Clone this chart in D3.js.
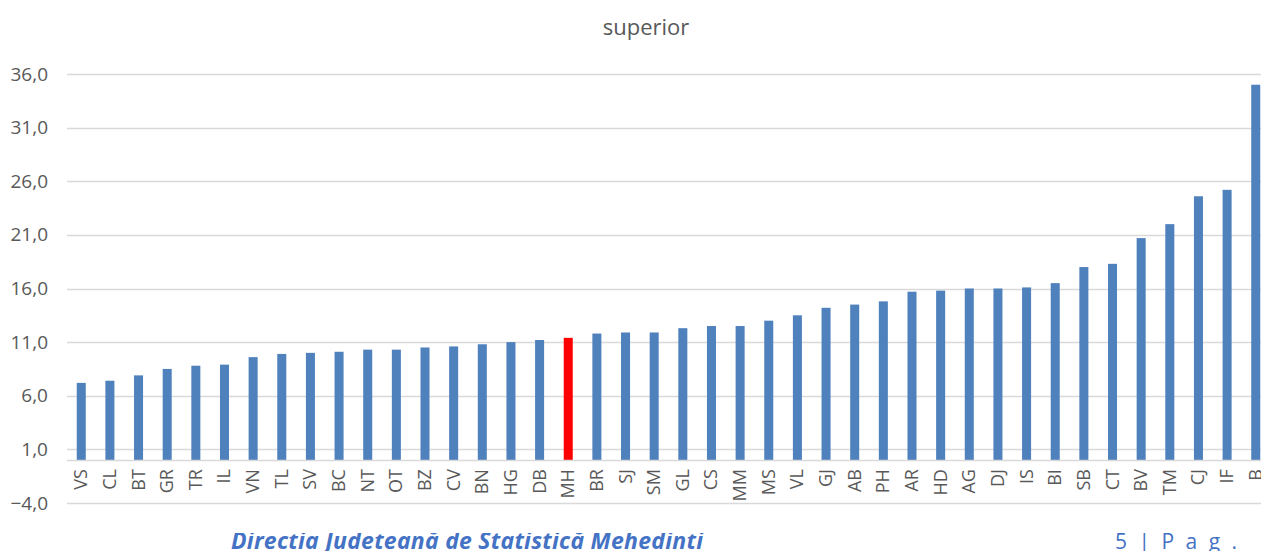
<!DOCTYPE html>
<html>
<head>
<meta charset="utf-8">
<script src="https://cdn.jsdelivr.net/npm/d3@7"></script>
<style>
  body { margin: 0; background: #fff; }
  svg { display: block; }
</style>
</head>
<body>
<div id="chart"></div>
<script>
// counties, sorted ascending by share (superior)
var counties = ["VS","CL","BT","GR","TR","IL","VN","TL","SV","BC","NT","OT","BZ","CV","BN","HG","DB","MH",
    "BR","SJ","SM","GL","CS","MM","MS","VL","GJ","AB","PH","AR","HD","AG","DJ","IS","BI","SB","CT","BV","TM","CJ","IF","B"];
var values = [7.2,7.4,7.9,8.5,8.8,8.9,9.6,9.9,10.0,10.1,10.3,10.3,10.5,10.6,10.8,11.0,11.2,11.4,
    11.8,11.9,11.9,12.3,12.5,12.5,13.0,13.5,14.2,14.5,14.8,15.7,15.8,16.0,16.0,16.1,16.5,18.0,18.3,20.7,22.0,24.6,25.2,35.0];
var yTicks = [-4, 1, 6, 11, 16, 21, 26, 31, 36];
var highlight = "MH";

var width = 1261, height = 551;
var margin = {left: 67, right: -9, top: 74, bottom: 48};
var fontFam = "Open Sans, sans-serif";

var svg = d3.select("#chart").append("svg")
    .attr("width", width)
    .attr("height", height);

var x = d3.scaleBand()
    .domain(counties)
    .range([margin.left, width - margin.right])
    .paddingInner(0.685)
    .paddingOuter(0.34);

var y = d3.scaleLinear()
    .domain([-4, 36])
    .range([height - margin.bottom, margin.top]);

//Title
svg.append("text")
    .attr("x", 646)
    .attr("y", 35)
    .attr("text-anchor", "middle")
    .style("font-family", fontFam)
    .style("font-size", "22px")
    .style("fill", "#595959")
    .text("superior");

//Gridlines
svg.append("g").selectAll("line")
    .data(yTicks)
    .enter().append("line")
    .attr("x1", margin.left)
    .attr("x2", width)
    .attr("y1", function(d){ return Math.round(y(d)) + 0.5; })
    .attr("y2", function(d){ return Math.round(y(d)) + 0.5; })
    .style("stroke", "#d9d9d9")
    .style("stroke-width", "1.5px");

//Y axis labels
var yAxis = d3.axisLeft(y)
    .tickValues(yTicks)
    .tickSize(0)
    .tickPadding(0)
    .tickFormat(function(d){ return d3.format(".1f")(d).replace(".", ","); });

var yG = svg.append("g")
    .attr("transform", "translate(" + 48 + ",0)")
    .call(yAxis);
yG.select(".domain").remove();
yG.selectAll("text")
    .style("font-family", fontFam)
    .style("font-size", "19px")
    .style("fill", "#595959");

//Bars
svg.append("g").selectAll("rect")
    .data(counties)
    .enter().append("rect")
    .attr("x", function(d){ return x(d); })
    .attr("width", x.bandwidth())
    .attr("y", function(d, i){ return y(values[i]); })
    .attr("height", function(d, i){ return y(0) - y(values[i]); })
    .style("fill", function(d){ return d === highlight ? "#ff0000" : "#4f81bd"; });

//Zero axis line
svg.append("line")
    .attr("x1", margin.left)
    .attr("x2", width)
    .attr("y1", Math.round(y(0)) + 0.5)
    .attr("y2", Math.round(y(0)) + 0.5)
    .style("stroke", "#d9d9d9")
    .style("stroke-width", "1.5px");

//Category labels, rotated
svg.append("g").selectAll("text")
    .data(counties)
    .enter().append("text")
    .attr("transform", function(d){
        return "translate(" + (x(d) + x.bandwidth()/2 + 6) + "," + (y(0) + 9) + ") rotate(-90)";
    })
    .attr("text-anchor", "end")
    .style("font-family", fontFam)
    .style("font-size", "18px")
    .style("fill", "#595959")
    .text(function(d){ return d; });

//Footer, top part hidden behind the chart picture
svg.append("clipPath")
    .attr("id", "footClip")
    .append("rect")
    .attr("x", 0).attr("y", 533)
    .attr("width", width).attr("height", 30);

var foot = svg.append("g").attr("clip-path", "url(#footClip)");
foot.append("text")
    .attr("x", 231)
    .attr("y", 549)
    .attr("textLength", 472)
    .style("font-family", fontFam)
    .style("font-size", "23px")
    .style("font-weight", "bold")
    .style("font-style", "italic")
    .style("fill", "#4472c4")
    .text("Direcția Județeană de Statistică Mehedinți");

foot.append("text")
    .attr("x", 1115)
    .attr("y", 549)
    .style("font-family", fontFam)
    .style("font-size", "21px")
    .style("letter-spacing", "3px")
    .style("fill", "#4472c4")
    .text("5 | P a g .");
</script>
</body>
</html>
